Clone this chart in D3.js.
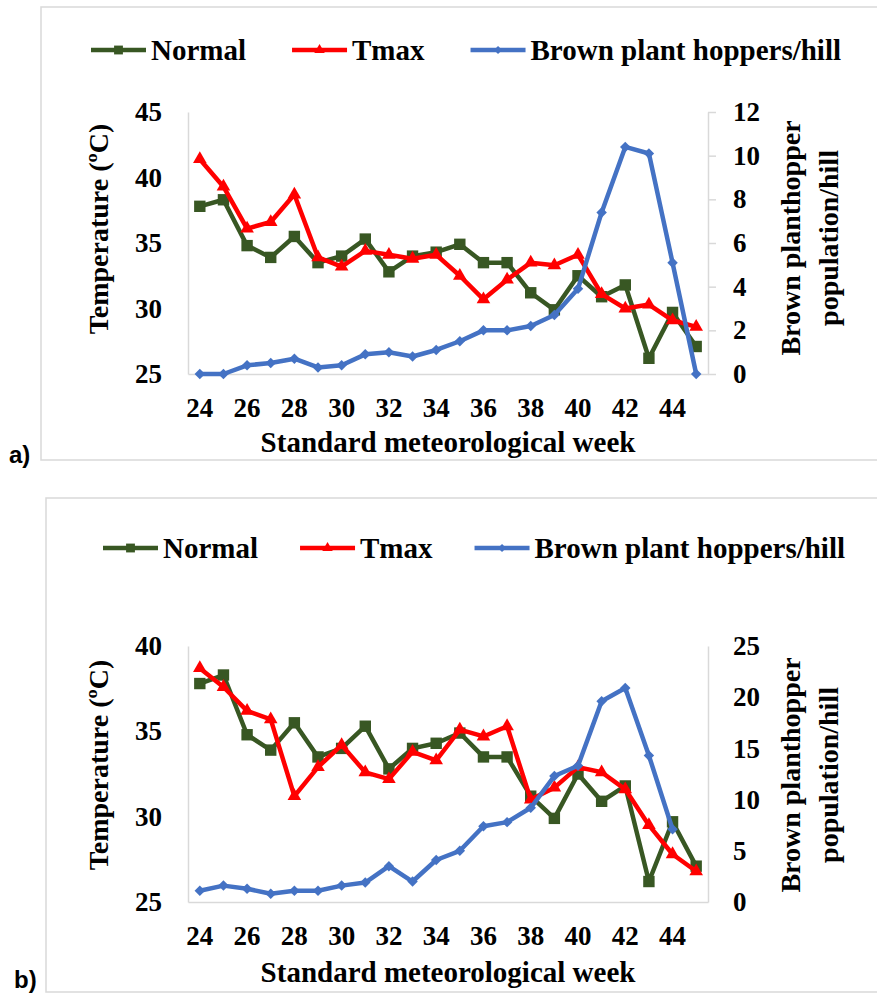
<!DOCTYPE html>
<html>
<head>
<meta charset="utf-8">
<script src="https://cdn.jsdelivr.net/npm/d3@7"></script>
<style>
  body { margin: 0; background: #fff; }
</style>
</head>
<body>
<script>
// weeks on the x axis
var weeks = [24, 25, 26, 27, 28, 29, 30, 31, 32, 33, 34, 35, 36, 37, 38, 39, 40, 41, 42, 43, 44, 45];

// normal temperature, same in both panels
var normalTemp = [37.8, 38.3, 34.8, 33.9, 35.5, 33.5, 34.0, 35.3, 32.8, 34.0, 34.3, 34.9, 33.5, 33.5, 31.2, 29.9, 32.5, 30.9, 31.8, 26.2, 29.7, 27.1];

// panel a
var tmaxA = [41.4, 39.3, 36.1, 36.6, 38.7, 33.9, 33.2, 34.4, 34.1, 33.8, 34.1, 32.5, 30.7, 32.2, 33.5, 33.3, 34.1, 31.1, 30.0, 30.3, 29.1, 28.6];
var bphA = [0, 0, 0.4, 0.5, 0.7, 0.3, 0.4, 0.9, 1.0, 0.8, 1.1, 1.5, 2.0, 2.0, 2.2, 2.7, 3.9, 7.4, 10.4, 10.1, 5.1, 0];
var leftTicksA = [25, 30, 35, 40, 45];
var rightTicksA = [0, 2, 4, 6, 8, 10, 12];

// panel b
var tmaxB = [38.7, 37.6, 36.2, 35.7, 31.2, 32.9, 34.2, 32.6, 32.2, 33.8, 33.3, 35.1, 34.7, 35.3, 31.0, 31.7, 32.9, 32.6, 31.6, 29.5, 27.8, 26.8];
var bphB = [1.1, 1.6, 1.3, 0.8, 1.1, 1.1, 1.6, 1.9, 3.5, 2.0, 4.1, 5.0, 7.4, 7.8, 9.2, 12.3, 13.3, 19.6, 20.9, 14.3, 7.1, null];
var leftTicksB = [25, 30, 35, 40];
var rightTicksB = [0, 5, 10, 15, 20, 25];

var xTicks = [24, 26, 28, 30, 32, 34, 36, 38, 40, 42, 44];
var seriesNames = ["Normal", "Tmax", "Brown plant hoppers/hill"];

var green = "#385723", red = "#ff0000", blue = "#4472c4", axisGrey = "#d9d9d9";
var serif = "Liberation Serif";

var svg = d3.select("body").append("svg")
    .attr("width", 877)
    .attr("height", 995);

var sq = d3.symbol().type(d3.symbolSquare);
var tri = d3.symbol().type(d3.symbolTriangle);

function marker(g, kind, color, scale) {
    scale = scale || 1;
    if (kind === "square") {
        g.append("path").attr("d", sq.size(130 * scale)()).attr("fill", color);
    } else if (kind === "triangle") {
        g.append("path").attr("d", tri.size(80 * scale)()).attr("fill", color);
    } else {
        g.append("path").attr("d", sq.size(55 * scale)()).attr("fill", color)
            .attr("transform", "rotate(45)");
    }
}

function serifText(sel, size) {
    return sel.style("font-family", serif)
        .style("font-weight", "bold")
        .style("font-size", size + "px")
        .attr("fill", "#000");
}

function drawPanel(p) {
    var g = svg.append("g");

    // panel frame
    g.append("rect")
        .attr("x", p.box[0]).attr("y", p.box[1])
        .attr("width", 1000).attr("height", p.box[2] - p.box[1])
        .attr("fill", "none").attr("stroke", axisGrey).attr("stroke-width", 1.5);

    var x = d3.scaleBand().domain(weeks).range([188, 708]);
    var yL = d3.scaleLinear().domain(p.leftDomain).range([p.bottom, p.top]);
    var yR = d3.scaleLinear().domain(p.rightDomain).range([p.bottom, p.top]);

    var axL = g.append("g").attr("transform", "translate(188,0)")
        .call(d3.axisLeft(yL).tickValues(p.leftTicks).tickSize(0).tickSizeOuter(0).tickPadding(26));
    var axR = g.append("g").attr("transform", "translate(708,0)")
        .call(d3.axisRight(yR).tickValues(p.rightTicks).tickSize(p.rightTickLen).tickSizeOuter(0).tickPadding(25 - p.rightTickLen));
    var axB = g.append("g").attr("transform", "translate(0," + p.bottom + ")")
        .call(d3.axisBottom(x).tickValues(xTicks).tickSize(0).tickSizeOuter(0).tickPadding(24));

    [axL, axR, axB].forEach(function (a) {
        a.attr("font-family", serif).attr("font-size", 27);
        a.select(".domain").attr("stroke", axisGrey).attr("stroke-width", 1.5);
        a.selectAll(".tick line").attr("stroke", axisGrey).attr("stroke-width", 1.5);
        serifText(a.selectAll("text"), 27);
    });
    axR.selectAll("text").attr("text-anchor", "start");

    // axis titles
    serifText(g.append("text"), 28)
        .attr("transform", "translate(98," + p.leftTitleY + ") rotate(-90)")
        .attr("text-anchor", "middle").attr("dy", "0.35em")
        .text("Temperature (ºC)");
    ["Brown planthopper", "population/hill"].forEach(function (t, i) {
        serifText(g.append("text"), 28)
            .attr("transform", "translate(" + (790 + i * 38) + "," + p.rightTitleY + ") rotate(-90)")
            .attr("text-anchor", "middle").attr("dy", "0.35em")
            .text(t);
    });
    serifText(g.append("text"), 29)
        .attr("x", 448).attr("y", p.xTitleY).attr("dy", "0.35em")
        .attr("text-anchor", "middle")
        .text("Standard meteorological week");

    // panel letter
    g.append("text")
        .attr("x", p.letterX).attr("y", p.letterY).attr("dy", "0.35em")
        .style("font-family", "Liberation Sans")
        .style("font-weight", "bold")
        .style("font-size", "24px")
        .text(p.letter);

    // series
    var series = [
        { vals: normalTemp, y: yL, color: green, kind: "square" },
        { vals: p.tmax, y: yL, color: red, kind: "triangle" },
        { vals: p.bph, y: yR, color: blue, kind: "diamond" }
    ];
    series.forEach(function (s) {
        var pts = weeks.map(function (w, i) { return { w: w, v: s.vals[i] }; })
            .filter(function (d) { return d.v !== null; });
        var line = d3.line()
            .x(function (d) { return x(d.w) + x.bandwidth() / 2; })
            .y(function (d) { return s.y(d.v); });
        g.append("path").datum(pts)
            .attr("d", line)
            .attr("fill", "none")
            .attr("stroke", s.color)
            .attr("stroke-width", 4.5)
            .attr("stroke-linejoin", "round");
        g.selectAll(null).data(pts).enter().append("g")
            .attr("transform", function (d) {
                return "translate(" + (x(d.w) + x.bandwidth() / 2) + "," + s.y(d.v) + ")";
            })
            .each(function () { marker(d3.select(this), s.kind, s.color); });
    });

    // legend
    var lx = p.legendX;
    series.forEach(function (s, i) {
        var item = g.append("g").attr("transform", "translate(" + lx + "," + p.legendY + ")");
        item.append("line").attr("x1", 0).attr("x2", 55)
            .attr("stroke", s.color).attr("stroke-width", 4.5);
        var m = item.append("g").attr("transform", "translate(27.5,0)");
        marker(m, s.kind, s.color, 0.6);
        var t = serifText(item.append("text"), 29).attr("x", 60).attr("dy", "0.35em")
            .text(seriesNames[i]);
        lx += 60 + t.node().getComputedTextLength() + p.legendGap;
    });
}

drawPanel({
    box: [41, 7, 460],
    top: 112, bottom: 374,
    leftDomain: [25, 45], rightDomain: [0, 12],
    leftTicks: leftTicksA, rightTicks: rightTicksA,
    rightTickLen: 8,
    tmax: tmaxA, bph: bphA,
    leftTitleY: 229, rightTitleY: 238, xTitleY: 442,
    legendX: 91, legendY: 50, legendGap: 46,
    letter: "a)", letterX: 9, letterY: 455
});

drawPanel({
    box: [46, 498, 992],
    top: 646, bottom: 902,
    leftDomain: [25, 40], rightDomain: [0, 25],
    leftTicks: leftTicksB, rightTicks: rightTicksB,
    rightTickLen: 0,
    tmax: tmaxB, bph: bphB,
    leftTitleY: 765, rightTitleY: 775, xTitleY: 972,
    legendX: 103, legendY: 548, legendGap: 42,
    letter: "b)", letterX: 14, letterY: 980
});
</script>
</body>
</html>
